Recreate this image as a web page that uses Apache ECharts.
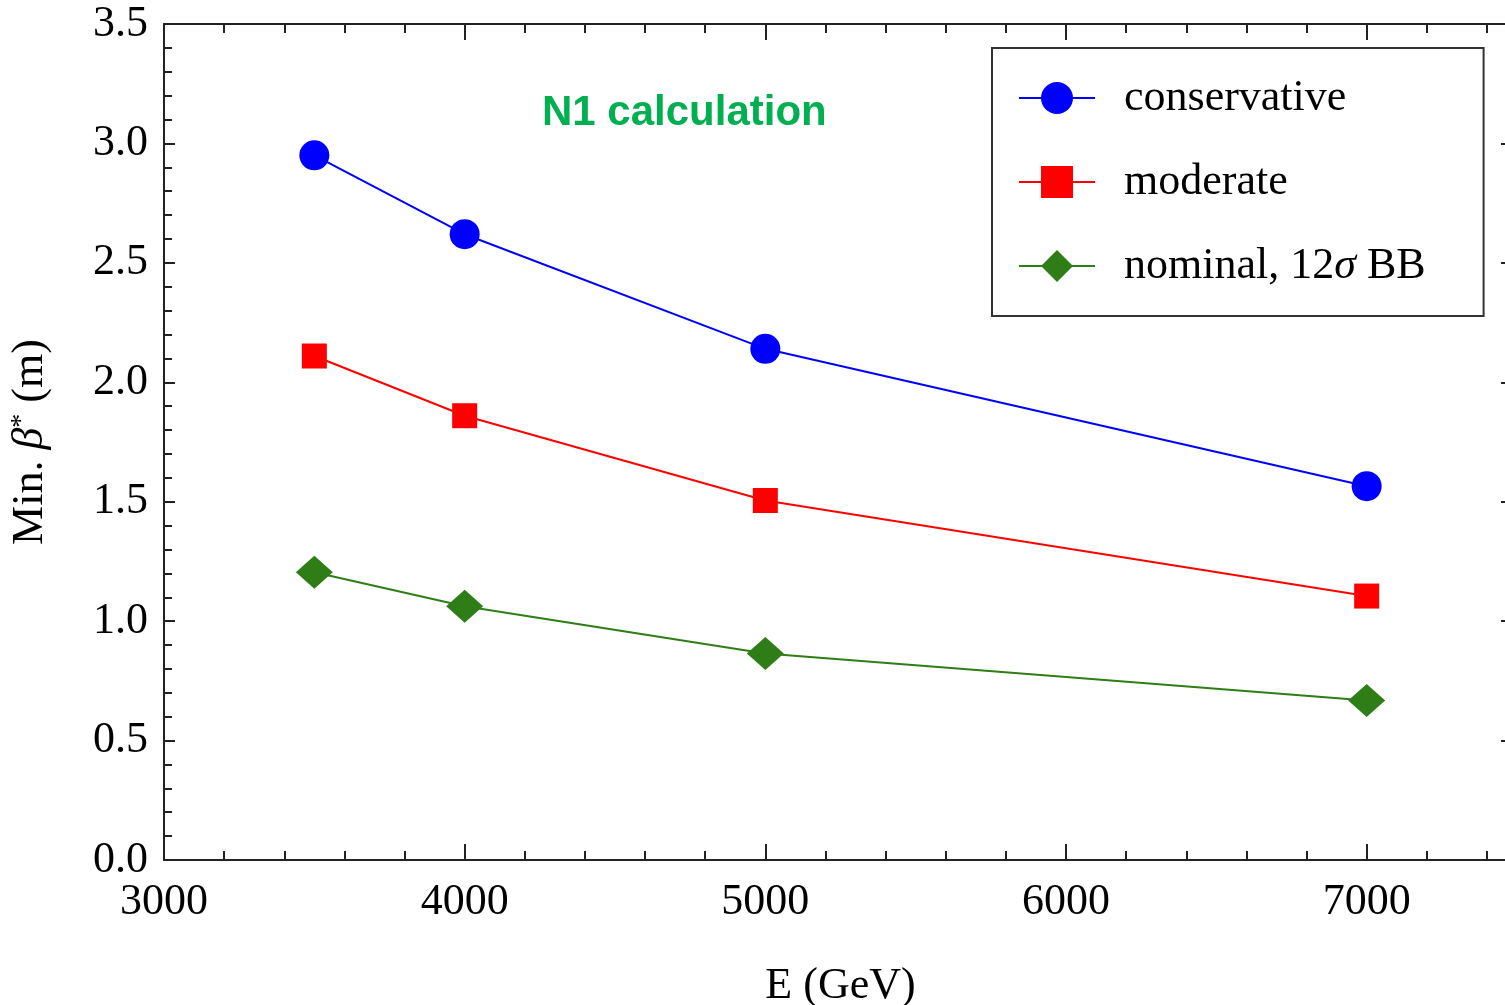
<!DOCTYPE html>
<html>
  <head>
    <meta charset="utf-8" />
    <title>Min beta* vs E</title>
    <script src="https://cdn.jsdelivr.net/npm/echarts@6/dist/echarts.min.js"></script>
    <style>
      * {
        margin: 0;
        padding: 0;
      }
      html,
      body,
      #container {
        width: 1505px;
        height: 1005px;
        background: #fff;
      }
    </style>
  </head>
  <body>
    <div id="container"></div>
    <script>
      // energies (GeV)
      const energies = [3500, 4000, 5000, 7000];
      // min beta* (m) per scenario
      const conservative = [2.95, 2.62, 2.14, 1.565];
      const moderate = [2.11, 1.86, 1.505, 1.105];
      const nominal = [1.205, 1.062, 0.865, 0.668];
      const seriesNames = ["conservative", "moderate", "nominal, 12σ BB"];

      const serif = "Liberation Serif";
      const axisColor = "#222";

      const toPairs = (ys) => energies.map((x, i) => [x, ys[i]]);

      const chart = echarts.init(document.getElementById("container"));

      const frameAxis = {
        axisLine: { show: true, onZero: false, lineStyle: { color: axisColor, width: 2 } },
        axisTick: { show: true, inside: true, length: 16, lineStyle: { color: axisColor, width: 2 } },
        minorTick: { show: true, splitNumber: 5, length: 9, lineStyle: { color: axisColor, width: 2 } },
        splitLine: { show: false },
      };

      chart.setOption({
        animation: false,
        title: {
          text: "N1 calculation",
          left: 537,
          top: 87,
          textStyle: {
            fontFamily: "Liberation Sans",
            fontWeight: "bold",
            fontSize: 42,
            color: "#00B050",
          },
        },
        legend: {
          orient: "vertical",
          left: 992,
          top: 48,
          padding: [28, 58, 28, 26],
          itemGap: 40,
          itemWidth: 76,
          itemHeight: 40,
          borderColor: "#333",
          borderWidth: 2,
          backgroundColor: "#fff",
          data: seriesNames,
          formatter: (name) =>
            name === "nominal, 12σ BB" ? "{a|nominal, 12}{i|σ}{a| BB}" : "{a|" + name + "}",
          textStyle: {
            padding: [0, 0, 0, 24],
            rich: {
              a: { fontFamily: serif, fontSize: 44, color: "#000" },
              i: { fontFamily: serif, fontSize: 44, fontStyle: "italic", color: "#000" },
            },
          },
        },
        grid: {
          left: 164,
          right: -12,
          top: 24,
          bottom: 145,
          containLabel: false,
          outerBoundsMode: "none",
        },
        xAxis: [
          Object.assign({}, frameAxis, {
            type: "value",
            min: 3000,
            max: 7500,
            interval: 1000,
            position: "bottom",
            name: "E (GeV)",
            nameLocation: "middle",
            nameGap: 104,
            nameTextStyle: { fontFamily: serif, fontSize: 44, color: "#000" },
            axisLabel: {
              fontFamily: serif,
              fontSize: 44,
              color: "#000",
              margin: 20,
              showMaxLabel: false,
              formatter: (v) => String(v),
            },
          }),
          Object.assign({}, frameAxis, {
            type: "value",
            min: 3000,
            max: 7500,
            interval: 1000,
            position: "top",
            axisLabel: { show: false },
          }),
        ],
        yAxis: [
          Object.assign({}, frameAxis, {
            type: "value",
            min: 0,
            max: 3.5,
            interval: 0.5,
            position: "left",
            axisTick: { show: true, inside: true, length: 11, lineStyle: { color: axisColor, width: 2 } },
            minorTick: { show: true, splitNumber: 5, length: 8, lineStyle: { color: axisColor, width: 2 } },
            name: "{a|Min. }{i|β}{s|*}{a| (m)}",
            nameLocation: "middle",
            nameGap: 112,
            nameRotate: 90,
            nameTextStyle: {
              rich: {
                a: { fontFamily: serif, fontSize: 44, color: "#000" },
                i: { fontFamily: serif, fontSize: 44, fontStyle: "italic", color: "#000" },
                s: { fontFamily: serif, fontSize: 28, color: "#000", verticalAlign: "top", padding: [0, 0, 16, 0] },
              },
            },
            axisLabel: {
              fontFamily: serif,
              fontSize: 44,
              color: "#000",
              margin: 16,
              formatter: (v) => v.toFixed(1),
            },
          }),
          Object.assign({}, frameAxis, {
            type: "value",
            min: 0,
            max: 3.5,
            interval: 0.5,
            position: "right",
            axisLabel: { show: false },
          }),
        ],
        series: [
          {
            name: seriesNames[0],
            type: "line",
            data: toPairs(conservative),
            symbol: "circle",
            symbolSize: 30,
            color: "#0000FF",
            lineStyle: { width: 2 },
          },
          {
            name: seriesNames[1],
            type: "line",
            data: toPairs(moderate),
            symbol: "rect",
            symbolSize: 25,
            color: "#FF0000",
            lineStyle: { width: 2 },
          },
          {
            name: seriesNames[2],
            type: "line",
            data: toPairs(nominal),
            symbol: "diamond",
            symbolSize: [37, 33],
            color: "#2E7D17",
            lineStyle: { width: 2 },
          },
        ],
      });
    </script>
  </body>
</html>
